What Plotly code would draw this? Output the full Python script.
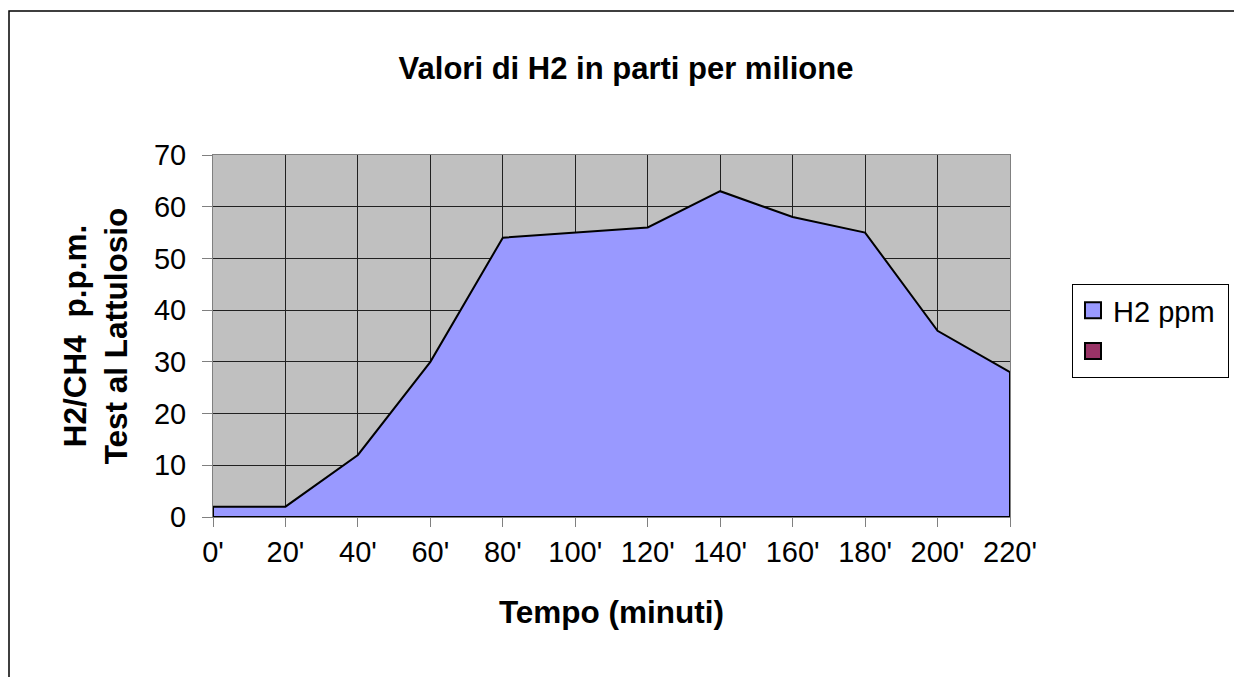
import plotly.graph_objects as go

categories = ["0'", "20'", "40'", "60'", "80'", "100'", "120'", "140'", "160'", "180'", "200'", "220'"]
h2_ppm = [2, 2, 12, 30, 54, 55, 56, 63, 58, 55, 36, 28]
series_names = ["H2 ppm", " "]
series_colors = ["#9999FF", "#993366"]

FONT = "Liberation Sans, Arial, sans-serif"
TICK_FS = 29
TITLE_FS = 31
AX_FS = 31.5

fig = go.Figure()

# closed area polygon (data line + baseline back to start)
xs = categories + [categories[-1], categories[0], categories[0]]
ys = h2_ppm + [0, 0, h2_ppm[0]]
fig.add_trace(go.Scatter(
    x=xs, y=ys, mode="lines", fill="toself", fillcolor=series_colors[0],
    line=dict(color="black", width=2), showlegend=False, hoverinfo="skip"))

# legend entries
for name, col in zip(series_names, series_colors):
    fig.add_trace(go.Scatter(x=[None], y=[None], mode="markers", name=name + "\u00a0",
                             marker=dict(symbol="square", size=16, color=col,
                                         line=dict(color="black", width=2)),
                             showlegend=True))

OFF = 8  # page body margin
W, H = 1242 - OFF, 677 - OFF
l, t = 213 - OFF, 155 - OFF
r = W - (1010 - OFF)
b = H - (517 - OFF)
pw, ph = W - l - r, H - t - b

def px(xv):
    return (xv - OFF - l) / pw

def py(yv):
    return (H - b - (yv - OFF)) / ph

fig.update_layout(
    width=W, height=H,
    margin=dict(l=l, r=r, t=t, b=b, autoexpand=False),
    paper_bgcolor="white", plot_bgcolor="#C0C0C0",
    font=dict(family=FONT, color="black", size=TICK_FS),
    title=dict(text="<b>Valori di H2 in parti per milione</b>", x=(626 - OFF) / W, xanchor="center",
               y=1 - (68 - OFF) / H, yanchor="middle", font=dict(size=TITLE_FS, family=FONT)),
    showlegend=True,
    legend=dict(x=px(1072), y=py(284), xanchor="left", yanchor="top",
                bordercolor="black", borderwidth=1, bgcolor="white",
                font=dict(size=TICK_FS, family=FONT), itemsizing="trace",
                itemwidth=30),
    xaxis=dict(type="category", categoryorder="array", categoryarray=categories,
               range=[0, len(categories) - 1], showgrid=True, gridcolor="#202020", gridwidth=1,
               ticks="outside", ticklen=9, tickcolor="#808080", tickwidth=1,
               showline=True, linecolor="#808080", mirror=True, zeroline=False,
               tickfont=dict(size=TICK_FS, family=FONT),
               title=dict(text="<b>Tempo (minuti)</b>", font=dict(size=AX_FS, family=FONT), standoff=34)),
    yaxis=dict(range=[0, 70], dtick=10, showgrid=True, gridcolor="#202020", gridwidth=1,
               ticks="outside", ticklen=10, tickcolor="#808080",
               showline=True, linecolor="#808080", mirror=True, zeroline=False,
               tickfont=dict(size=TICK_FS, family=FONT), ticklabelstandoff=10,
               title=dict(text="<b>H2/CH4  p.p.m.<br>Test al Lattulosio</b>",
                          font=dict(size=AX_FS, family=FONT), standoff=16)),
    shapes=[dict(type="rect", xref="paper", yref="paper",
                 x0=px(9), x1=px(1300), y0=py(11), y1=py(760),
                 line=dict(color="black", width=1.5), layer="below")],
)

fig.write_html("out.html")
